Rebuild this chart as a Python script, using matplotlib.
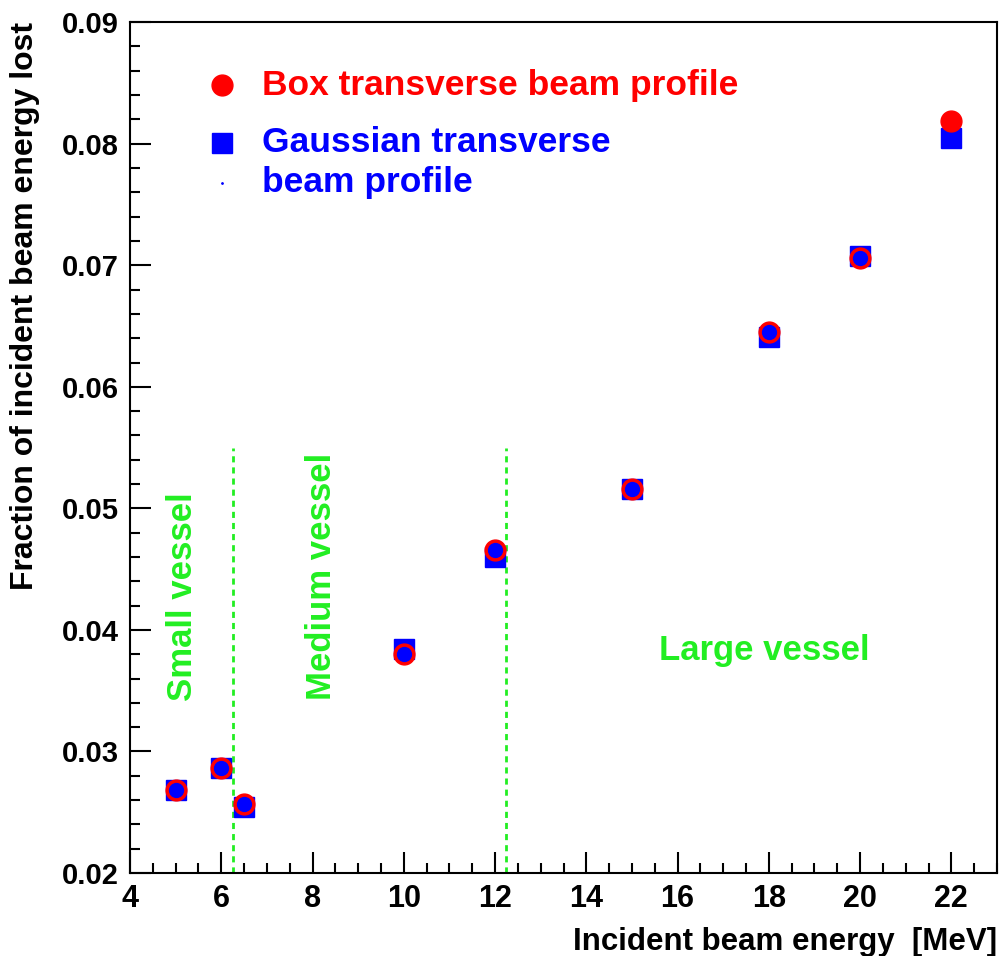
import matplotlib
matplotlib.use("Agg")
import matplotlib.pyplot as plt
from matplotlib.ticker import MultipleLocator

plt.rcParams['font.family'] = ['Liberation Sans', 'DejaVu Sans']
plt.rcParams['font.weight'] = 'bold'
plt.rcParams['axes.labelweight'] = 'bold'

# incident beam energy [MeV]
energy = [5, 6, 6.5, 10, 12, 15, 18, 20, 22]
# fraction of beam energy lost, box profile
box_loss = [0.0268, 0.0286, 0.0257, 0.0380, 0.0466, 0.0516, 0.0645, 0.0706, 0.0819]
# same, gaussian profile
gauss_loss = [0.0268, 0.0286, 0.0254, 0.0384, 0.0460, 0.0516, 0.0641, 0.0708, 0.0805]

# vessel size boundaries
boundaries = [6.25, 12.25]
boundary_top = 0.055

green = '#22ee22'

fig = plt.figure(figsize=(10, 9.56), dpi=100)
ax = fig.add_axes([0.13, 0.0868, 0.867, 0.890])

ax.plot(energy, gauss_loss, 's', color='blue', ms=14, mec='blue', zorder=3)
ax.plot(energy, box_loss, 'o', color='red', ms=15, mec='red', zorder=4)
# blue core on the box points (not drawn for the last one)
ax.plot(energy[:-1], box_loss[:-1], 'o', color='blue', ms=10, mec='blue', zorder=5)

for b in boundaries:
    ax.plot([b, b], [0.02, boundary_top], color=green, ls=(0, (2.2, 1.8)), lw=2, zorder=2)

ax.text(5.15, 0.0427, 'Small vessel', rotation=90, color=green, fontsize=25,
        ha='center', va='center')
ax.text(8.2, 0.0444, 'Medium vessel', rotation=90, color=green, fontsize=25,
        ha='center', va='center')
ax.text(17.9, 0.0383, 'Large vessel', color=green, fontsize=25,
        ha='center', va='center')

# legend
tr = ax.transAxes
ax.plot([0.106], [0.926], 'o', color='red', ms=15, transform=tr, clip_on=False)
ax.plot([0.106], [0.858], 's', color='blue', ms=14, transform=tr, clip_on=False)
ax.plot([0.106], [0.811], '.', color='blue', ms=2, transform=tr, clip_on=False)
ax.text(0.152, 0.926, 'Box transverse beam profile', color='red', fontsize=25.5,
        va='center', transform=tr)
ax.text(0.152, 0.858, 'Gaussian transverse', color='blue', fontsize=25.5,
        va='center', transform=tr)
ax.text(0.152, 0.811, 'beam profile', color='blue', fontsize=25.5,
        va='center', transform=tr)

ax.set_xlim(4, 23)
ax.set_ylim(0.02, 0.09)
ax.xaxis.set_major_locator(MultipleLocator(2))
ax.xaxis.set_minor_locator(MultipleLocator(0.5))
ax.yaxis.set_major_locator(MultipleLocator(0.01))
ax.yaxis.set_minor_locator(MultipleLocator(0.002))
ax.tick_params(which='both', direction='in', width=1.5, top=False, right=False)
ax.tick_params(which='major', length=15)
ax.tick_params(which='minor', length=7)
ax.tick_params(axis='x', pad=8, labelsize=22)
ax.tick_params(axis='y', pad=8, labelsize=21)
ax.yaxis.set_major_formatter(lambda v, p: '%.2f' % v)

for s in ax.spines.values():
    s.set_linewidth(1.5)

ax.set_xlabel('Incident beam energy  [MeV]', fontsize=22.5, loc='right', labelpad=9)
ax.set_ylabel('Fraction of incident beam energy lost', fontsize=23, loc='top',
              labelpad=16)

fig.savefig('out.png', dpi=100)
